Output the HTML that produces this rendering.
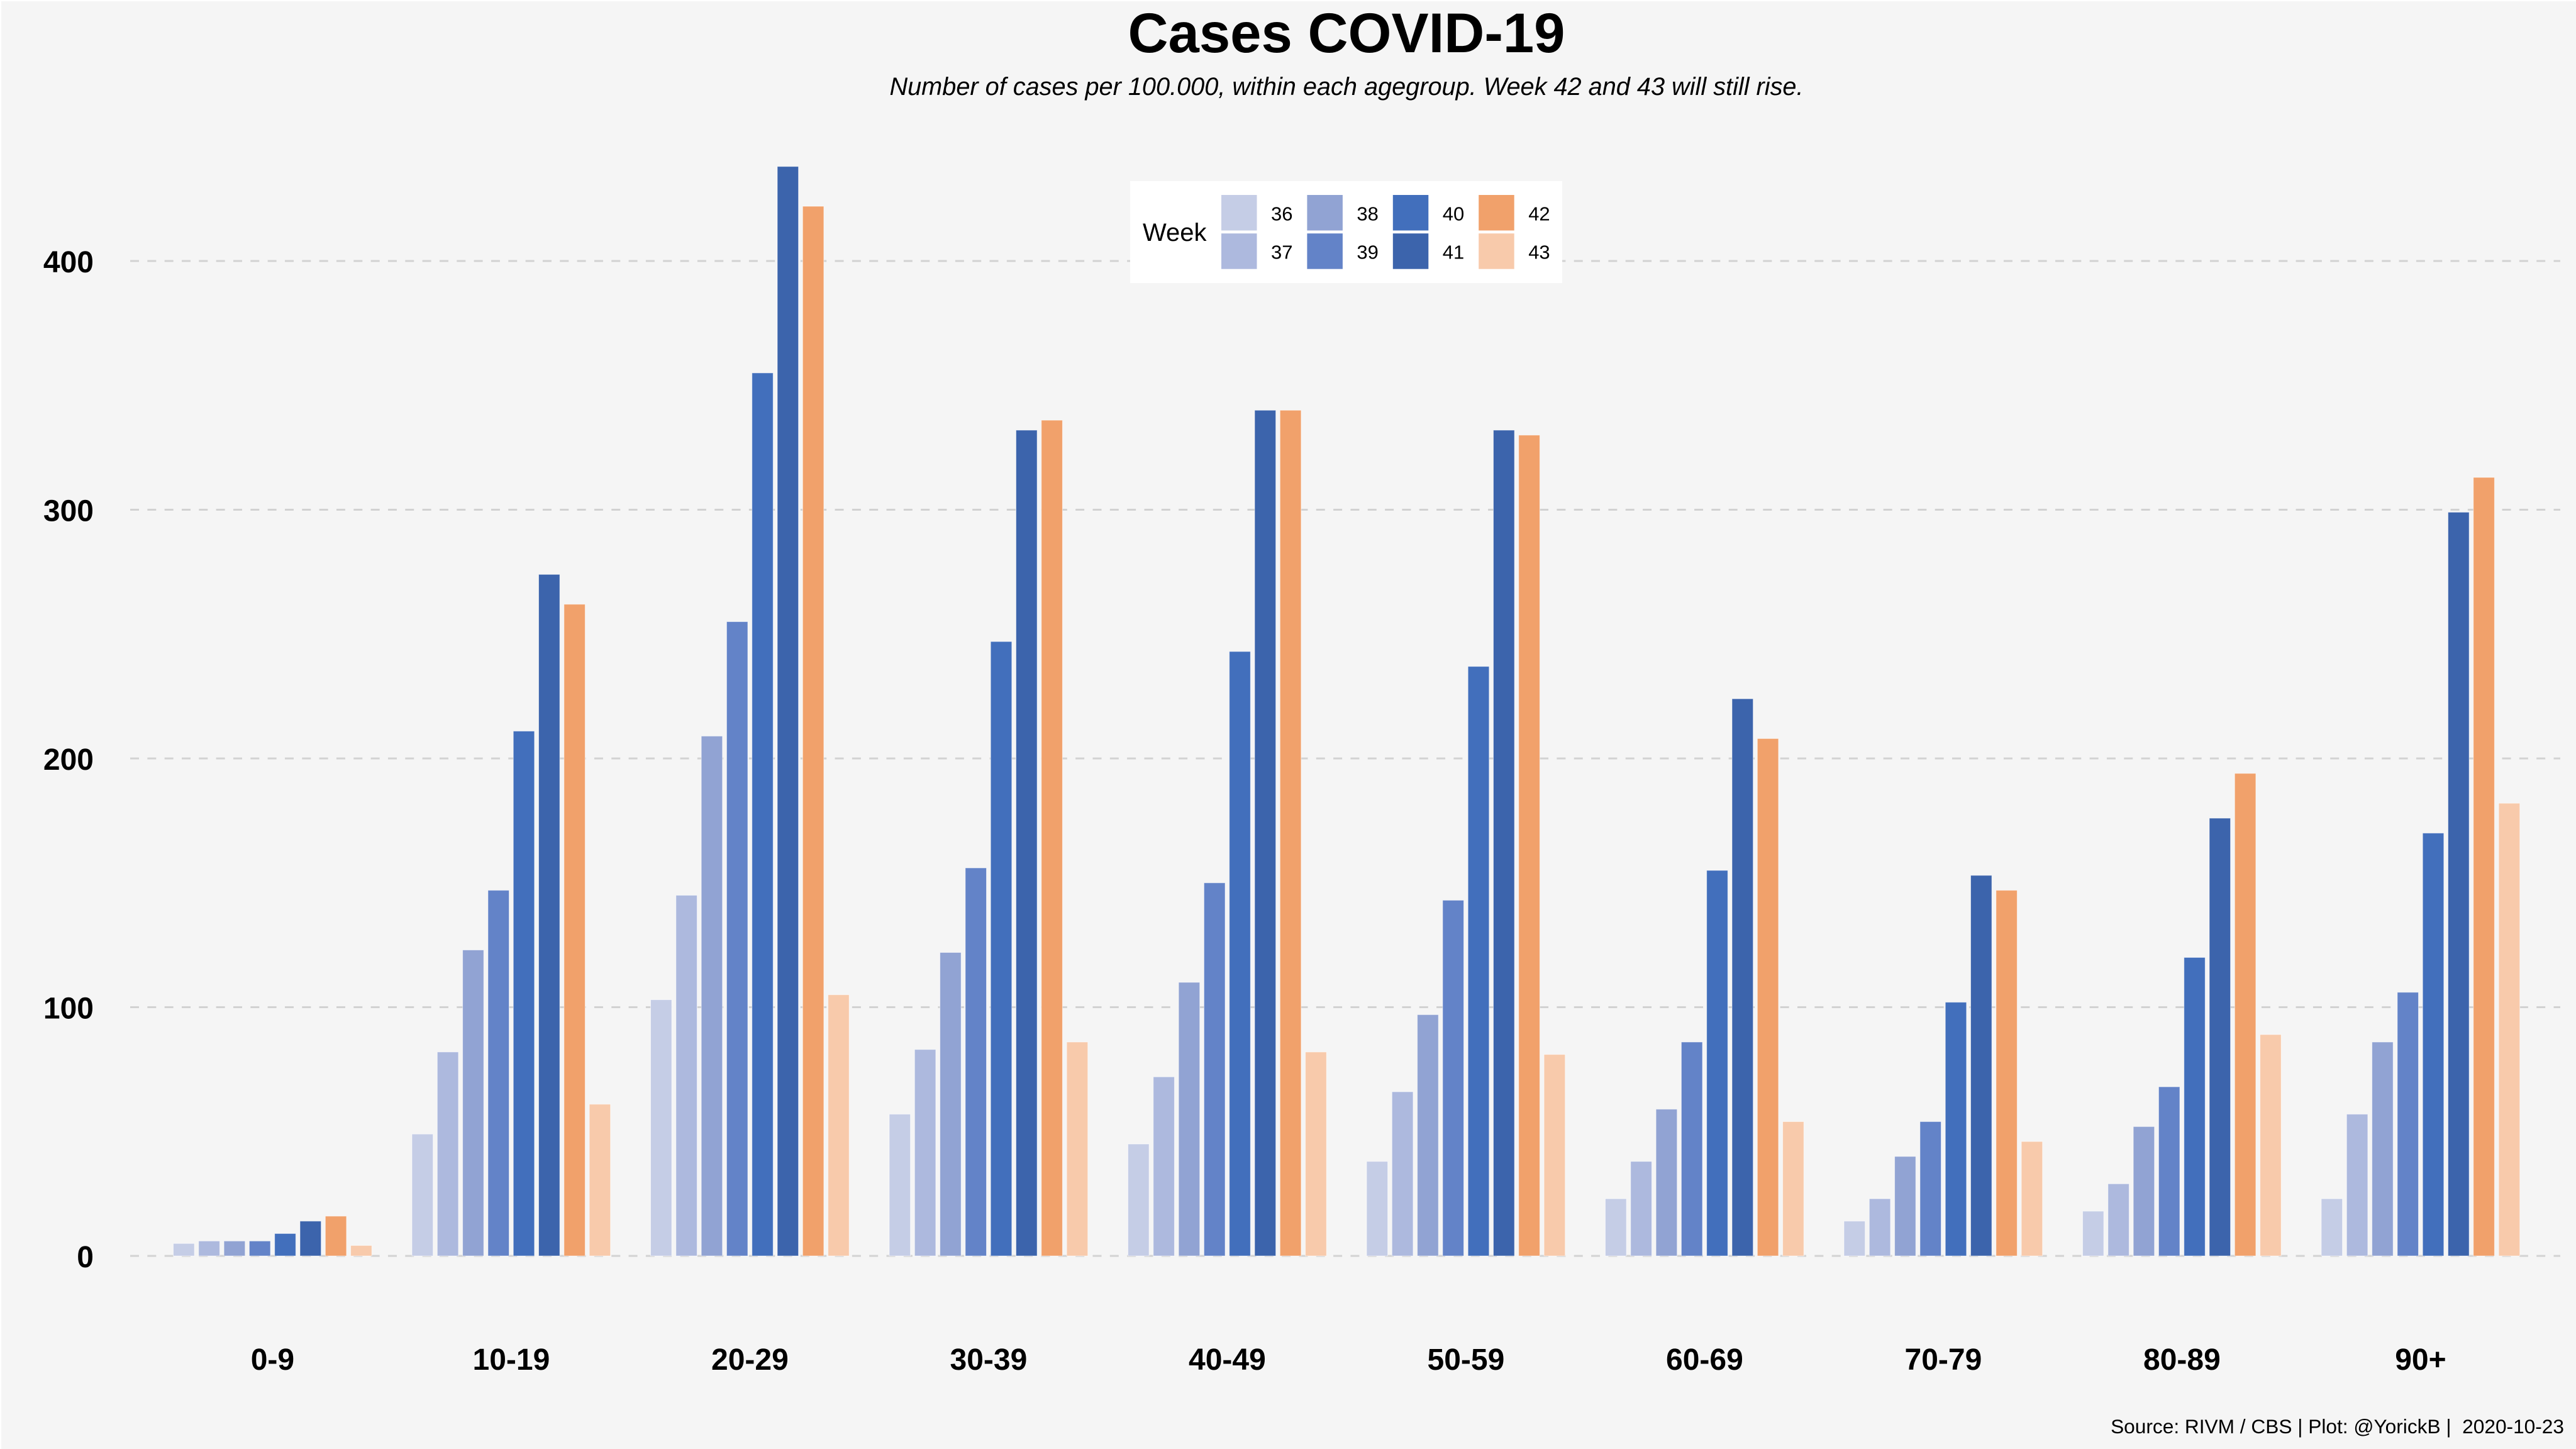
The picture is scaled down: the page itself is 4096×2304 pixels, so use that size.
<!DOCTYPE html>
<html lang="en">
<head>
<meta charset="utf-8">
<title>Cases COVID-19</title>
<style>
html,body{margin:0;padding:0;background:#fff;}
svg{display:block;font-family:"Liberation Sans",Arial,sans-serif;}
text{fill:#000;}
</style>
</head>
<body>
<svg id="chart" xmlns="http://www.w3.org/2000/svg" width="4096" height="2304" viewBox="0 0 4096 2304">
  <rect x="2" y="2" width="4094" height="2302" fill="#f5f5f5"/>
  <text x="2141" y="83" font-size="88.7" font-weight="bold" text-anchor="middle">Cases COVID-19</text>
  <text x="2141" y="151" font-size="39.7" font-style="italic" text-anchor="middle">Number of cases per 100.000, within each agegroup. Week 42 and 43 will still rise.</text>
  <text x="4077" y="2279" font-size="31.65" text-anchor="end" xml:space="preserve" style="white-space:pre">Source: RIVM / CBS | Plot: @YorickB |  2020-10-23</text>
  <g id="grid"></g>
  <g id="yticks"></g>
  <g id="bars"></g>
  <g id="xticks"></g>
  <g id="legend">
    <rect x="1797" y="288" width="687" height="162" fill="#ffffff"/>
    <text x="1817" y="383" font-size="40">Week</text>
  </g>
</svg>
<script>
const ageGroups = ['0-9','10-19','20-29','30-39','40-49','50-59','60-69','70-79','80-89','90+'];
const weeks = ['36','37','38','39','40','41','42','43'];
const weekColors = ['#c5cde6','#adb9de','#91a3d3','#6383c8','#426fbc','#3c64ac','#f1a16b','#f8caab'];
const week36 = [5,49,103,57,45,38,23,14,18,23];
const week37 = [6,82,145,83,72,66,38,23,29,57];
const week38 = [6,123,209,122,110,97,59,40,52,86];
const week39 = [6,147,255,156,150,143,86,54,68,106];
const week40 = [9,211,355,247,243,237,155,102,120,170];
const week41 = [14,274,438,332,340,332,224,153,176,299];
const week42 = [16,262,422,336,340,330,208,147,194,313];
const week43 = [4.2,61,105,86,82,81,54,46,89,182];
const yTicks = [0,100,200,300,400];

const seriesByWeek = [week36,week37,week38,week39,week40,week41,week42,week43];
const NS = 'http://www.w3.org/2000/svg';
function yScale(v){ return 1997 - v * 3.955; }
function groupCenter(i){ return 433.4 + i * 379.5; }
function barLeft(i, w){ return groupCenter(i) - 157.9 + w * 40.3; }
const BAR_WIDTH = 33.6;

function make(tag, attrs, parent, content){
  const el = document.createElementNS(NS, tag);
  for (const k in attrs) el.setAttribute(k, attrs[k]);
  if (content !== undefined) el.textContent = content;
  parent.appendChild(el);
  return el;
}

const gridG = document.getElementById('grid');
const yG = document.getElementById('yticks');
yTicks.forEach(function(t){
  const line = make('line', {x1:207, x2:4071, y1:yScale(t), y2:yScale(t), stroke:'#d2d2d2', 'stroke-width':3, 'stroke-dasharray':'14 13.33', 'stroke-dashoffset':'0'}, gridG);
  
  
  const lab = make('text', {x:149, y:yScale(t) + 18, 'font-size':48, 'font-weight':'bold', 'text-anchor':'end'}, yG, String(t));
  
  
});

const barsG = document.getElementById('bars');
seriesByWeek.forEach(function(values, w){
  values.forEach(function(v, i){
    const r = make('rect', {x:barLeft(i, w), y:yScale(v), width:BAR_WIDTH, height:yScale(0) - yScale(v), fill:weekColors[w], stroke:'#ffffff', 'stroke-opacity':0.55, 'stroke-width':1}, barsG);
    
    
  });
});

const xG = document.getElementById('xticks');
ageGroups.forEach(function(g, i){
  const lab = make('text', {x:groupCenter(i), y:2178, 'font-size':48, 'font-weight':'bold', 'text-anchor':'middle'}, xG, g);
  
  
});

const legendG = document.getElementById('legend');
weeks.forEach(function(wk, n){
  const col = Math.floor(n / 2), row = n % 2;
  const kx = 1942 + col * 136.4, ky = 310 + row * 61.2;
  const key = make('rect', {x:kx, y:ky, width:56.5, height:56.5, fill:weekColors[n]}, legendG);
  
  
  const lab = make('text', {x:kx + 79, y:ky + 40.5, 'font-size':31}, legendG, wk);
  
  
});
</script>
</body>
</html>
